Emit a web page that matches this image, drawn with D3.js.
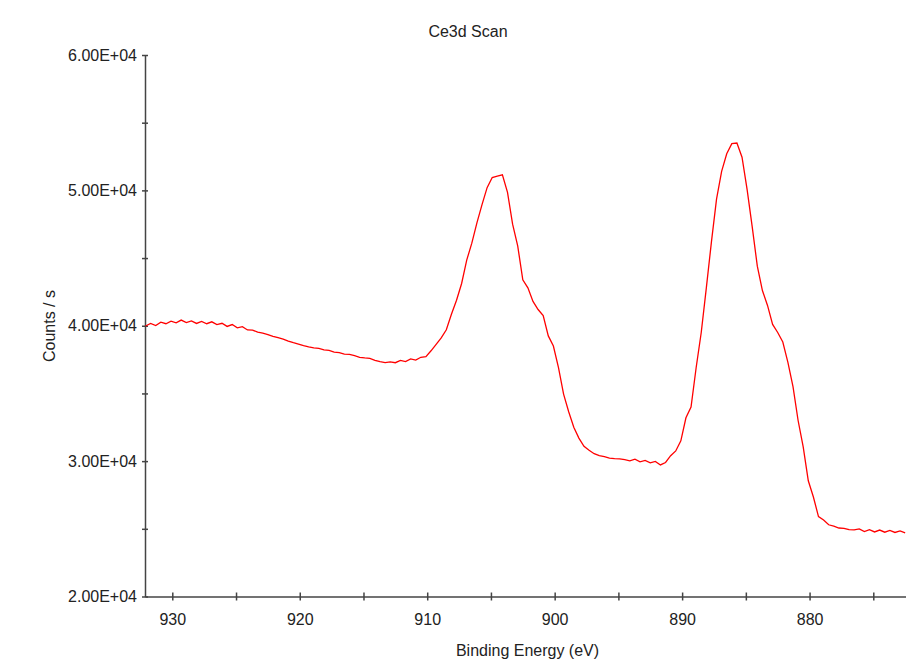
<!DOCTYPE html>
<html>
<head>
<meta charset="utf-8">
<script src="https://cdn.jsdelivr.net/npm/d3@7"></script>
<style>
  body { margin: 0; background: #fff; }
  svg { display: block; font-family: "Liberation Sans", Arial, sans-serif; }
</style>
</head>
<body>
<svg id="chart" width="906" height="663"></svg>
<script>
// Ce3d scan, counts, binding energy grid 932.1 -> 872.5 eV (0.4 eV steps)
const energyStart = 932.1
const energyStep = 0.4
const counts = [
  39980, 40170, 40020, 40260, 40150, 40340, 40210, 40420, 40240, 40360,
  40170, 40320, 40150, 40290, 40090, 40180, 39950, 40090, 39840, 39930,
  39690, 39680, 39530, 39450, 39350, 39220, 39120, 39010, 38860, 38750,
  38650, 38540, 38440, 38360, 38330, 38210, 38180, 38050, 38020, 37910,
  37880, 37790, 37670, 37620, 37590, 37450, 37350, 37280, 37330, 37270,
  37440, 37350, 37550, 37460, 37670, 37720, 38150, 38620, 39100, 39700,
  40850, 41880, 43120, 44850, 46100, 47600, 48950, 50200, 50950, 51050,
  51150, 49850, 47500, 45900, 43400, 42800, 41800, 41200, 40750, 39250,
  38500, 36900, 34950, 33650, 32500, 31700, 31100, 30800, 30550, 30400,
  30330, 30220, 30180, 30170, 30110, 30020, 30150, 29950, 30050, 29870,
  29980, 29720, 29900, 30400, 30750, 31500, 33200, 34000, 36900, 39500,
  42800, 46200, 49350, 51400, 52700, 53450, 53500, 52450, 50050, 47300,
  44400, 42600, 41500, 40100, 39500, 38800, 37300, 35500, 33000, 31050,
  28550, 27350, 25900, 25650, 25300, 25190, 25060, 25040, 24940, 24920,
  24990, 24790, 24940, 24770, 24910, 24750, 24880, 24730, 24850, 24700
]
const yMajor = [20000, 30000, 40000, 50000, 60000]
const yMinor = [25000, 35000, 45000, 55000]
const xTicks = [930, 925, 920, 915, 910, 905, 900, 895, 890, 885, 880, 875]

const data = counts.map((c, i) => ({e: energyStart - i * energyStep, c: c}))

const svg = d3.select('#chart')
const plotLeft = 145, plotRight = 906, plotTop = 55, plotBottom = 596.5

var x = d3.scaleLinear().domain([930, 875]).range([172.3, 873.3])
x.domain([x.invert(plotLeft), x.invert(plotRight)]).range([plotLeft, plotRight])
var y = d3.scaleLinear().domain([20000, 60000]).range([plotBottom, plotTop])

const fmt = d => (d / 1e4).toFixed(2) + 'E+04'

// title
svg.append('text')
  .attr('x', 468).attr('y', 37)
  .attr('text-anchor', 'middle')
  .attr('font-size', 16).attr('fill', '#222')
  .text('Ce3d Scan')

// y axis
var gy = svg.append('g').attr('transform', `translate(${plotLeft},0)`)
  .call(d3.axisLeft(y).tickValues(yMajor).tickFormat(fmt).tickSize(3).tickPadding(5).tickSizeOuter(0))
gy.append('g')
  .call(d3.axisLeft(y).tickValues(yMinor).tickFormat('').tickSize(3).tickSizeOuter(0))
  .select('.domain').remove()
gy.selectAll('line').attr('x1', 3)
gy.selectAll('text').attr('font-size', 16).attr('fill', '#222').attr('font-family', null)

// x axis
var gx = svg.append('g').attr('transform', `translate(0,${plotBottom})`)
  .call(d3.axisBottom(x).tickValues(xTicks)
    .tickFormat(d => d % 10 == 0 ? d : '')
    .tickSize(4).tickSizeOuter(0))
gx.selectAll('line').attr('y1', -4)
gx.selectAll('text').attr('y', 17.5).attr('font-size', 16).attr('fill', '#222').attr('font-family', null)

svg.selectAll('.domain, .tick line').attr('stroke', '#444').attr('stroke-width', 1.5)

// axis titles
svg.append('text')
  .attr('transform', 'translate(55,326) rotate(-90)')
  .attr('text-anchor', 'middle')
  .attr('font-size', 16).attr('fill', '#222')
  .text('Counts / s')
svg.append('text')
  .attr('x', 527.5).attr('y', 656)
  .attr('text-anchor', 'middle')
  .attr('font-size', 16).attr('fill', '#222')
  .text('Binding Energy (eV)')

// spectrum
svg.append('path')
  .datum(data)
  .attr('fill', 'none')
  .attr('stroke', 'red')
  .attr('stroke-width', 1.3)
  .attr('d', d3.line().x(d => x(d.e)).y(d => y(d.c)))
</script>
</body>
</html>
